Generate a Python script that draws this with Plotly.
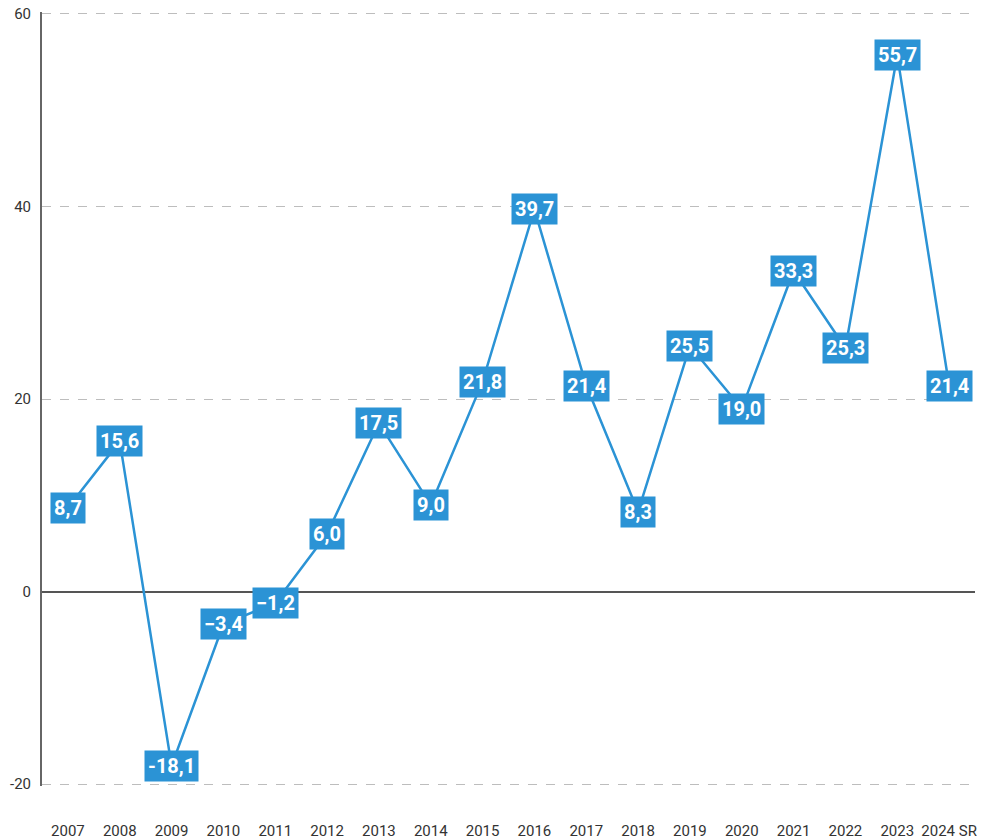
import plotly.graph_objects as go

years = ["2007", "2008", "2009", "2010", "2011", "2012", "2013", "2014", "2015",
         "2016", "2017", "2018", "2019", "2020", "2021", "2022", "2023", "2024 SR"]
values = [8.7, 15.6, -18.1, -3.4, -1.2, 6.0, 17.5, 9.0, 21.8,
          39.7, 21.4, 8.3, 25.5, 19.0, 33.3, 25.3, 55.7, 21.4]
labels = ["8,7", "15,6", "-18,1", "\u22123,4", "\u22121,2", "6,0", "17,5", "9,0", "21,8",
          "39,7", "21,4", "8,3", "25,5", "19,0", "33,3", "25,3", "55,7", "21,4"]
y_ticks = [-20, 0, 20, 40, 60]
y_ticktext = ["-20", "0", "20", "40", "60"]

BLUE = "#2b93d5"

fig = go.Figure()
fig.add_trace(go.Scatter(x=years, y=values, mode="lines",
                         line=dict(color=BLUE, width=2.5), hoverinfo="skip"))

for i, (y, t) in enumerate(zip(values, labels)):
    fig.add_annotation(x=i, y=y, xref="x", yref="y", text="<b>%s</b>" % t, showarrow=False,
                       xanchor="center", yanchor="middle",
                       font=dict(family="Roboto", size=20, color="white"),
                       bgcolor=BLUE, borderpad=3)

fig.update_layout(
    width=985, height=839,
    margin=dict(l=34, r=18, t=4, b=61),
    plot_bgcolor="white", paper_bgcolor="white",
    showlegend=False,
    font=dict(family="Roboto", size=15, color="#333"),
)
fig.update_xaxes(type="category", range=[-0.5, 17.5], showgrid=False, zeroline=False,
                 showline=False, ticks="", ticklabelstandoff=34, automargin=False,
                 ticklabeloverflow="allow",
                 tickfont=dict(family="Roboto", size=15, color="#333"))
fig.update_yaxes(range=[-20.2, 60.2], tickvals=y_ticks, ticktext=y_ticktext,
                 showgrid=True, gridcolor="#bdbdbd", griddash="dash", gridwidth=1,
                 zeroline=True, zerolinecolor="#555", zerolinewidth=2,
                 showline=True, linecolor="#666", linewidth=2, automargin=False,
                 ticks="", ticklabelstandoff=6, ticklabeloverflow="allow",
                 tickfont=dict(family="Roboto", size=15, color="#333"))

fig.write_html("out.html")
